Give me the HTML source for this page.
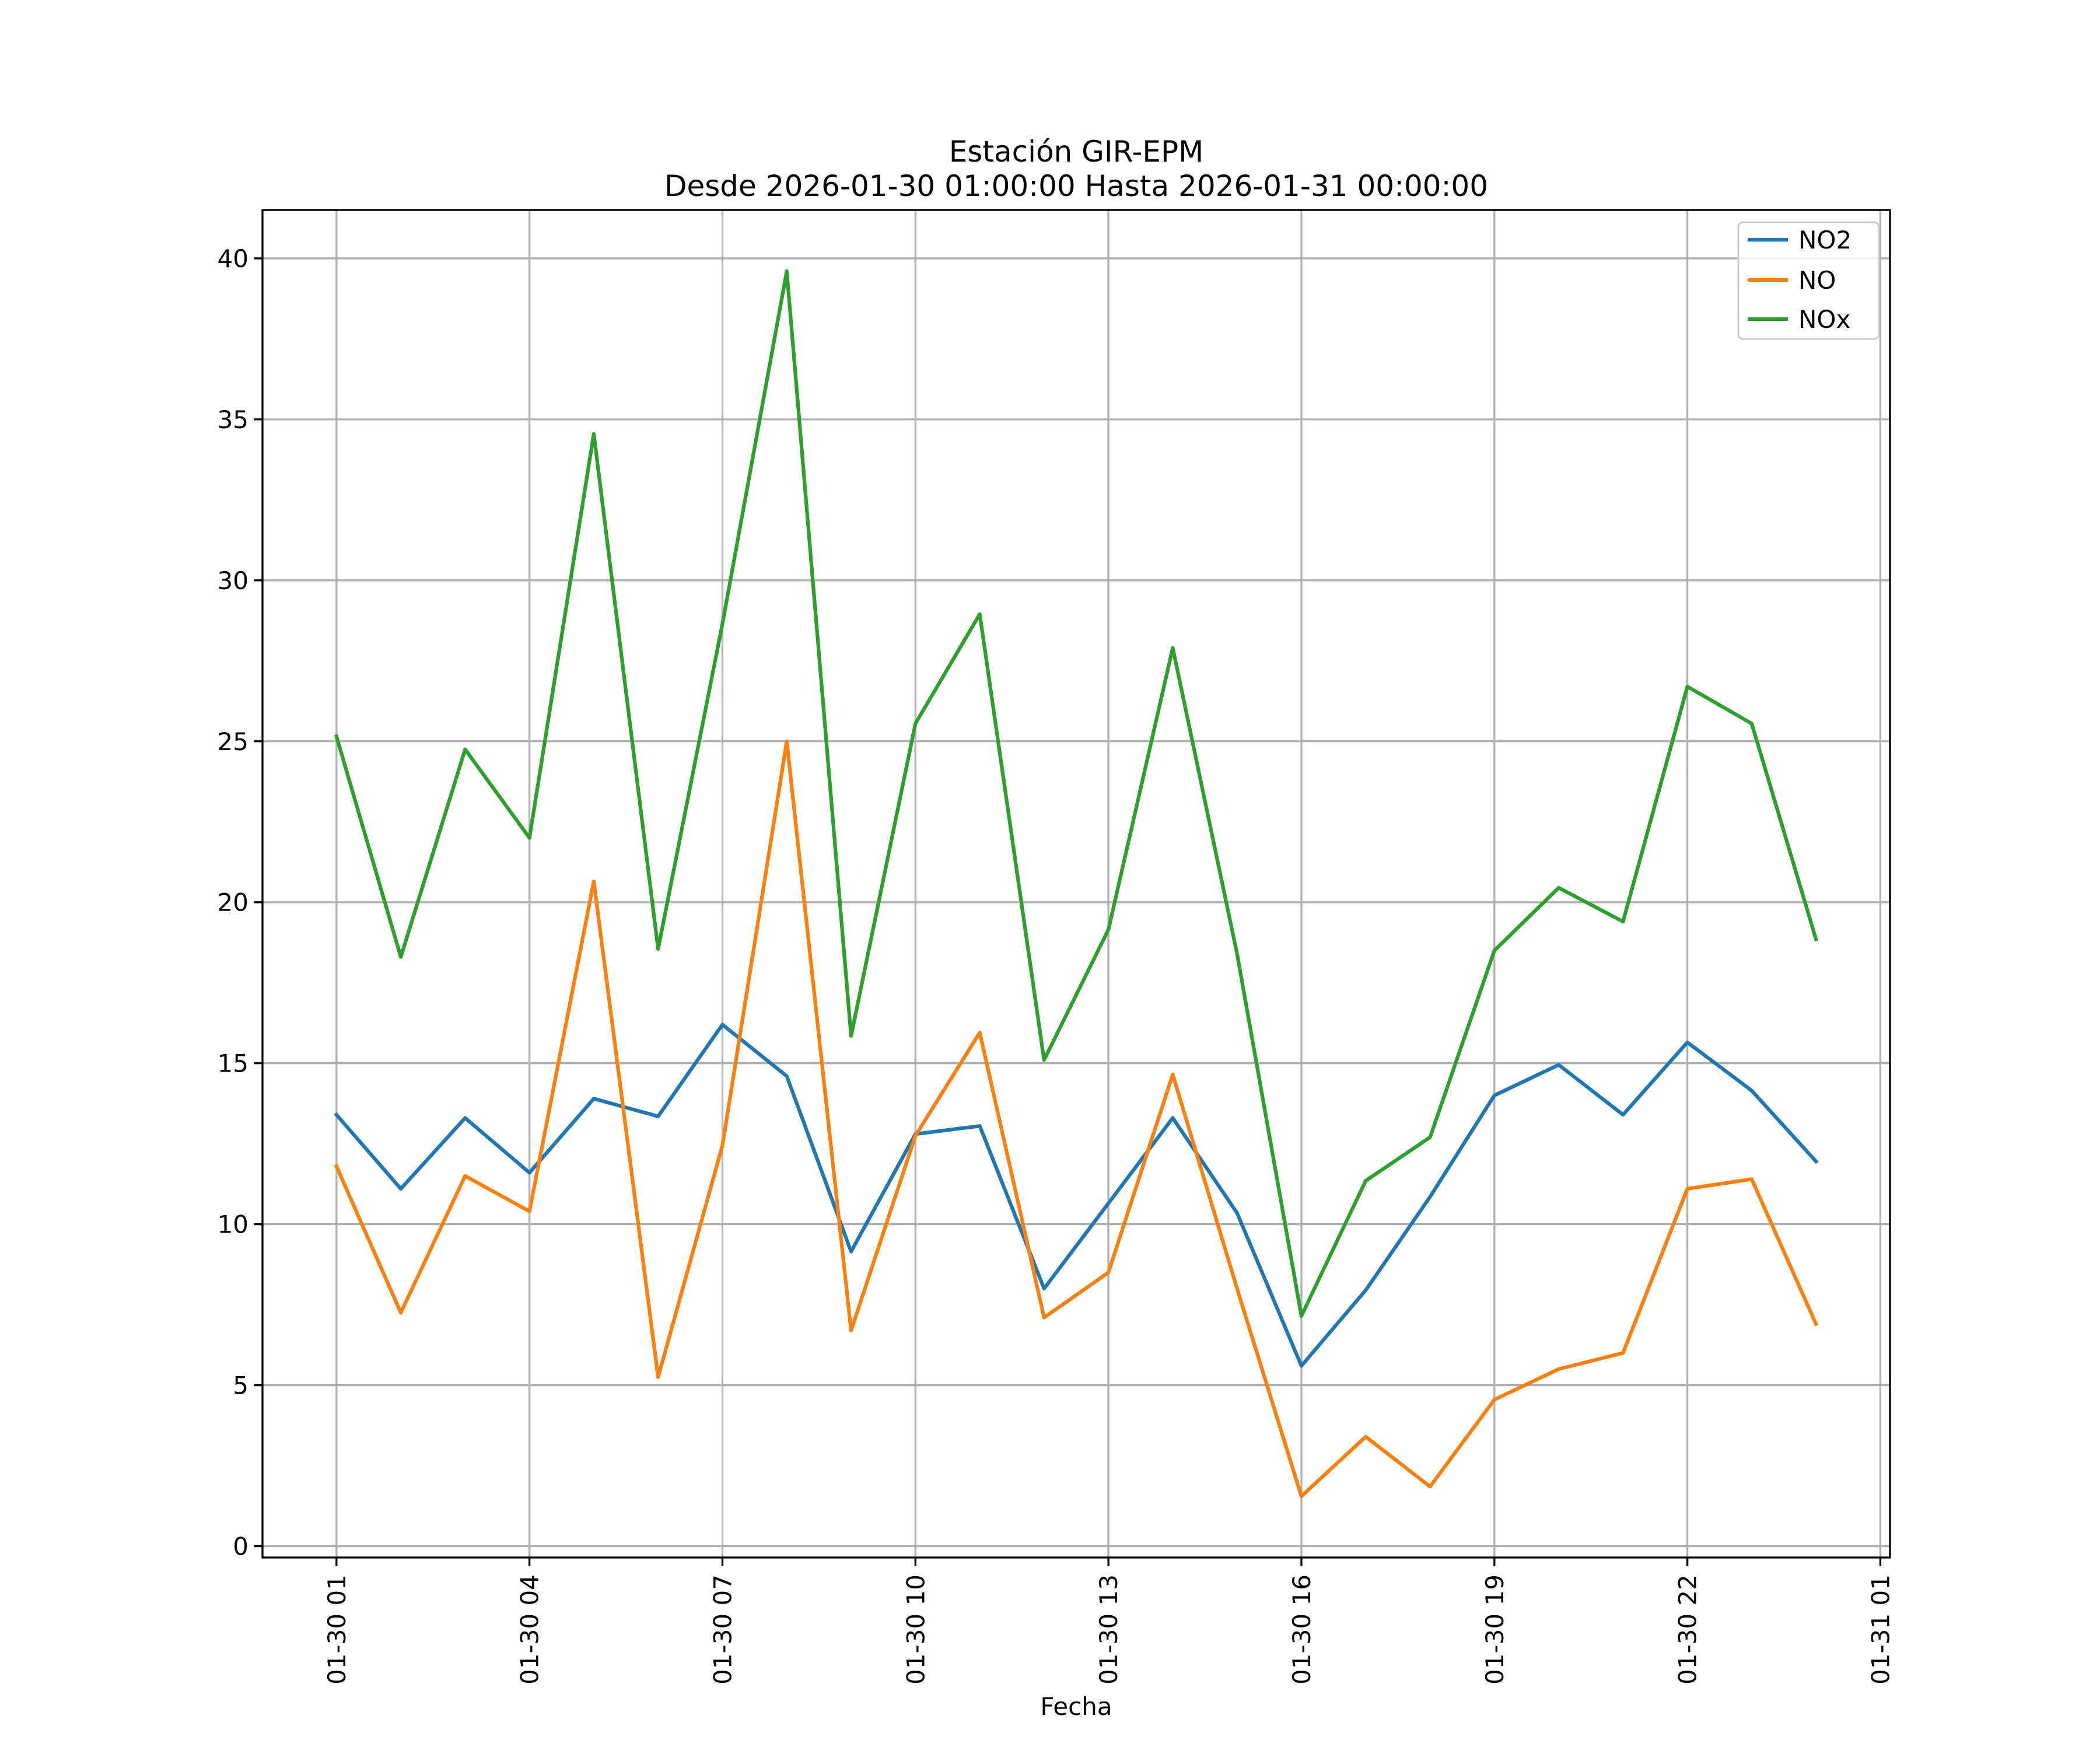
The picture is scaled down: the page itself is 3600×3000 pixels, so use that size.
<!DOCTYPE html>
<html><head><meta charset="utf-8"><style>html,body{margin:0;padding:0;background:#fff}svg{display:block}text{font-family:"DejaVu Sans","Liberation Sans",sans-serif;fill:#000}</style></head>
<body>
<svg id="chart" width="3600" height="3000" viewBox="0 0 3600 3000" xmlns="http://www.w3.org/2000/svg">
<rect width="3600" height="3000" fill="#fff"/>
<text x="1845" y="277" font-size="50" text-anchor="middle">Estación GIR-EPM</text>
<text x="1845" y="336" font-size="50" text-anchor="middle">Desde 2026-01-30 01:00:00 Hasta 2026-01-31 00:00:00</text>
<g id="grid"></g><g id="series"></g><g id="axes"></g>
<text x="1845" y="2940" font-size="42" text-anchor="middle">Fecha</text>
<g>
<rect x="2980" y="381" width="241" height="200" rx="8" fill="#fff" fill-opacity="0.8" stroke="#ccc" stroke-width="3"/>
<g><line x1="2996" y1="411" x2="3065" y2="411" stroke="#1f77b4" stroke-width="6.25"/><text x="3083" y="426" font-size="42">NO2</text></g>
<g><line x1="2996" y1="480" x2="3065" y2="480" stroke="#ff7f0e" stroke-width="6.25"/><text x="3083" y="495" font-size="42">NO</text></g>
<g><line x1="2996" y1="547" x2="3065" y2="547" stroke="#2ca02c" stroke-width="6.25"/><text x="3083" y="562" font-size="42">NOx</text></g>
</g>
</svg>
<script>
const hours = [0,1,2,3,4,5,6,7,8,9,10,11,12,13,14,15,16,17,18,19,20,21,22,23];
const no2 = [13.4,11.1,13.3,11.6,13.9,13.35,16.2,14.6,9.15,12.8,13.05,8.0,10.65,13.3,10.35,5.6,7.95,10.85,14.0,14.95,13.4,15.65,14.15,11.95];
const no = [11.8,7.25,11.5,10.4,20.65,5.25,12.45,25.0,6.7,12.75,15.95,7.1,8.5,14.65,8.0,1.55,3.4,1.85,4.55,5.5,6.0,11.1,11.4,6.9];
const nox = [25.15,18.3,24.75,22.0,34.55,18.55,28.65,39.6,15.85,25.55,28.95,15.1,19.15,27.9,18.4,7.15,11.35,12.7,18.5,20.45,19.4,26.7,25.55,18.85];
const yTicks = [0,5,10,15,20,25,30,35,40];
const xTickHours = [0,3,6,9,12,15,18,21,24];
const xTickLabels = ["01-30 01","01-30 04","01-30 07","01-30 10","01-30 13","01-30 16","01-30 19","01-30 22","01-31 01"];

const L=450,R=3240,T=360,B=2670;
const allV=no2.concat(no,nox);
const vmin=Math.min(...allV),vmax=Math.max(...allV),vm=(vmax-vmin)*0.05;
const y0=vmin-vm,y1=vmax+vm;
const hmin=Math.min(...hours),hmax=Math.max(...hours),hm=(hmax-hmin)*0.05;
const x0=hmin-hm,x1=hmax+hm;
const sx=h=>L+(h-x0)/(x1-x0)*(R-L);
const sy=v=>B-(v-y0)/(y1-y0)*(B-T);
const NS="http://www.w3.org/2000/svg";
function mk(tag,attrs,parent){const e=document.createElementNS(NS,tag);for(const k in attrs)e.setAttribute(k,attrs[k]);parent.appendChild(e);return e;}
const grid=document.getElementById('grid'),axes=document.getElementById('axes'),series=document.getElementById('series');
yTicks.forEach(v=>{const y=sy(v);
 const g=mk('line',{x1:L,x2:R,y1:y,y2:y,stroke:'#b0b0b0','stroke-width':3.3},grid);
 
 
 mk('line',{x1:L-14.6,x2:L,y1:y,y2:y,stroke:'#000','stroke-width':3.3},axes);
 const t=mk('text',{x:L-24,y:y+15,'font-size':42,'text-anchor':'end'},axes);t.textContent=v;
 
 
});
xTickHours.forEach((h,i)=>{const x=sx(h);
 const g=mk('line',{x1:x,x2:x,y1:T,y2:B,stroke:'#b0b0b0','stroke-width':3.3},grid);
 
 
 mk('line',{x1:x,x2:x,y1:B,y2:B+14.6,stroke:'#000','stroke-width':3.3},axes);
 const t=mk('text',{x:0,y:0,'font-size':42,'text-anchor':'end',transform:`translate(${x+15},${B+29}) rotate(-90)`},axes);t.textContent=xTickLabels[i];
 
 
});
const fr=mk('rect',{x:L,y:T,width:R-L,height:B-T,fill:'none',stroke:'#000','stroke-width':3.3},axes);


[[no2,'#1f77b4','no2'],[no,'#ff7f0e','no'],[nox,'#2ca02c','nox']].forEach(([d,c,n])=>{
 const p=mk('polyline',{points:d.map((v,i)=>sx(hours[i])+','+sy(v)).join(' '),fill:'none',stroke:c,'stroke-width':6.25,'stroke-linejoin':'round','stroke-linecap':'square'},series);
 
 
});
</script>
</body></html>
